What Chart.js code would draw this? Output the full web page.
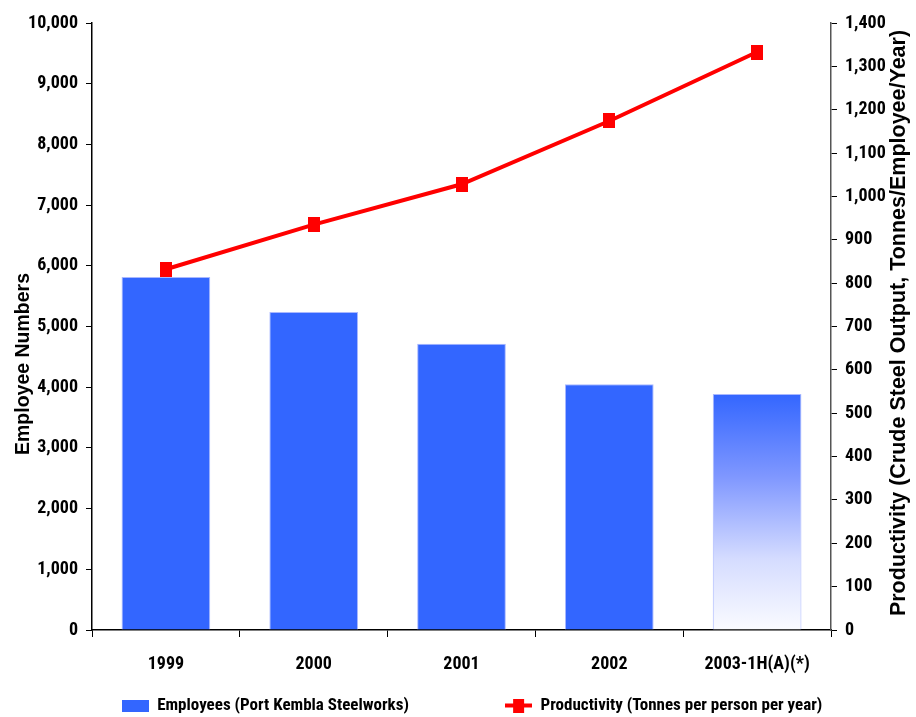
<!DOCTYPE html>
<html>
<head>
<meta charset="utf-8">
<script src="https://cdn.jsdelivr.net/npm/chart.js@4.4.1/dist/chart.umd.min.js"></script>
<style>
  html, body { margin: 0; padding: 0; background: #fff; }
  #wrap { width: 916px; height: 717px; }
</style>
</head>
<body>
<div id="wrap"><canvas id="chart"></canvas></div>
<script>
// values
const years = ['1999', '2000', '2001', '2002', '2003-1H(A)(*)'];
const employees = [5815, 5240, 4715, 4050, 3890];
const productivity = [832, 935, 1028, 1174, 1333];
const leftTicks = { max: 10000, step: 1000 };
const rightTicks = { max: 1400, step: 100 };

const NARROW = "'Roboto Condensed', 'Open Sans Condensed', 'Liberation Sans', sans-serif";
const WIDE = "'Liberation Sans', Arial, sans-serif";
const BLUE = '#3366FF';
const RED = '#FF0000';

const fmt = v => v.toLocaleString('en-US');

// red square marker, a bit taller than wide like the original
function makeMarker() {
  const c = document.createElement('canvas');
  c.width = 12; c.height = 15;
  const g = c.getContext('2d');
  g.fillStyle = RED;
  g.fillRect(0, 0, 12, 15);
  return c;
}
// legend icons
function makeBox() {
  const c = document.createElement('canvas');
  c.width = 27; c.height = 12;
  const g = c.getContext('2d');
  g.fillStyle = BLUE;
  g.fillRect(0, 0, 27, 12);
  return c;
}
function makeLineIcon() {
  const c = document.createElement('canvas');
  c.width = 27; c.height = 14;
  const g = c.getContext('2d');
  g.fillStyle = RED;
  g.fillRect(0, 5, 27, 4);
  g.fillRect(8, 0, 11, 14);
  return c;
}
const marker = makeMarker();

// last bar fades out to white (partial year)
function barColor(ctx) {
  if (ctx.dataIndex !== 4) return BLUE;
  const { chart } = ctx;
  const { chartArea, scales } = chart;
  if (!chartArea || !scales.y) return BLUE;
  const top = scales.y.getPixelForValue(employees[4]);
  const bottom = scales.y.getPixelForValue(0);
  const grad = chart.ctx.createLinearGradient(0, top, 0, bottom);
  grad.addColorStop(0, '#3366FF');
  grad.addColorStop(0.35, '#7F97FF');
  grad.addColorStop(0.7, '#D5DCFF');
  grad.addColorStop(1, '#FAFBFF');
  return grad;
}

// axis titles drawn by hand: the right one reads bottom-to-top in the original
const axisTitles = {
  id: 'axisTitles',
  afterDraw(chart) {
    const { ctx } = chart;
    ctx.save();
    ctx.fillStyle = '#000';
    ctx.textAlign = 'center';
    ctx.textBaseline = 'middle';

    ctx.save();
    ctx.font = 'bold 19.5px ' + WIDE;
    ctx.translate(24, 364);
    ctx.rotate(-Math.PI / 2);
    ctx.fillText('Employee Numbers', 0, 0);
    ctx.restore();

    ctx.save();
    ctx.font = 'bold 21.5px ' + WIDE;
    ctx.translate(899, 323);
    ctx.rotate(-Math.PI / 2);
    ctx.fillText('Productivity (Crude Steel Output, Tonnes/Employee/Year)', 0, 0);
    ctx.restore();

    ctx.restore();
  }
};

const shiftLegend = {
  id: 'shiftLegend',
  afterLayout(chart) {
    const lg = chart.legend;
    if (!lg) return;
    lg.left += 14; lg.right += 14;
    lg.top += 7; lg.bottom += 7;
  }
};

// width of the gap between the two legend entries
function gapSpaces() {
  const g = document.createElement('canvas').getContext('2d');
  g.font = 'bold 17px ' + NARROW;
  const w = g.measureText('\u00A0').width || 4;
  return '\u00A0'.repeat(Math.round(88 / w));
}

new Chart(document.getElementById('chart'), {
  type: 'bar',
  data: {
    labels: years,
    datasets: [
      {
        type: 'bar',
        label: 'Employees (Port Kembla Steelworks)',
        data: employees,
        backgroundColor: barColor,
        borderColor: '#A9B8FF',
        borderWidth: 1,
        categoryPercentage: 1,
        barPercentage: 0.6,
        yAxisID: 'y',
        order: 2
      },
      {
        type: 'line',
        label: 'Productivity (Tonnes per person per year)',
        data: productivity,
        borderColor: RED,
        backgroundColor: RED,
        borderWidth: 4,
        pointStyle: marker,
        pointRadius: 8,
        pointHoverRadius: 8,
        tension: 0,
        yAxisID: 'y2',
        order: 1
      }
    ]
  },
  options: {
    responsive: true,
    maintainAspectRatio: false,
    animation: false,
    layout: { padding: { top: 23, right: 0, left: 0, bottom: 0 } },
    plugins: {
      tooltip: { enabled: false },
      legend: {
        position: 'bottom',
        labels: {
          usePointStyle: true,
          pointStyleWidth: 27,
          boxHeight: 12,
          padding: 10,
          color: '#000',
          font: { family: NARROW, size: 17, weight: 'bold' },
          generateLabels: chart => {
            const icons = [makeBox(), makeLineIcon()];
            const spaces = gapSpaces();
            return chart.data.datasets.map((d, i) => ({
              text: i === 0 ? d.label + spaces : d.label,
              pointStyle: icons[i],
              fillStyle: 'transparent',
              strokeStyle: 'transparent',
              lineWidth: 0,
              datasetIndex: i,
              fontColor: '#000'
            }));
          }
        }
      }
    },
    scales: {
      x: {
        offset: true,
        afterFit: s => { s.height = 50; },
        grid: {
          offset: true,
          drawOnChartArea: false,
          tickLength: 7,
          color: '#000'
        },
        border: { color: '#000', width: 1.5 },
        ticks: {
          color: '#000',
          padding: 17,
          maxRotation: 0,
          font: { family: NARROW, size: 18, weight: 'bold' }
        }
      },
      y: {
        position: 'left',
        min: 0,
        max: leftTicks.max,
        afterFit: s => { s.width = 92; },
        grid: { drawOnChartArea: false, tickLength: 6, color: '#000' },
        border: { color: '#000', width: 1.5 },
        ticks: {
          stepSize: leftTicks.step,
          color: '#000',
          padding: 8,
          callback: v => fmt(v),
          font: { family: NARROW, size: 18, weight: 'bold' }
        }
      },
      y2: {
        position: 'right',
        min: 0,
        max: rightTicks.max,
        afterFit: s => { s.width = 85; },
        grid: { drawOnChartArea: false, tickLength: 6, color: '#000' },
        border: { color: '#555', width: 1.5 },
        ticks: {
          stepSize: rightTicks.step,
          color: '#000',
          padding: 8,
          callback: v => fmt(v),
          font: { family: NARROW, size: 18, weight: 'bold' }
        }
      }
    }
  },
  plugins: [axisTitles, shiftLegend]
});
</script>
</body>
</html>
